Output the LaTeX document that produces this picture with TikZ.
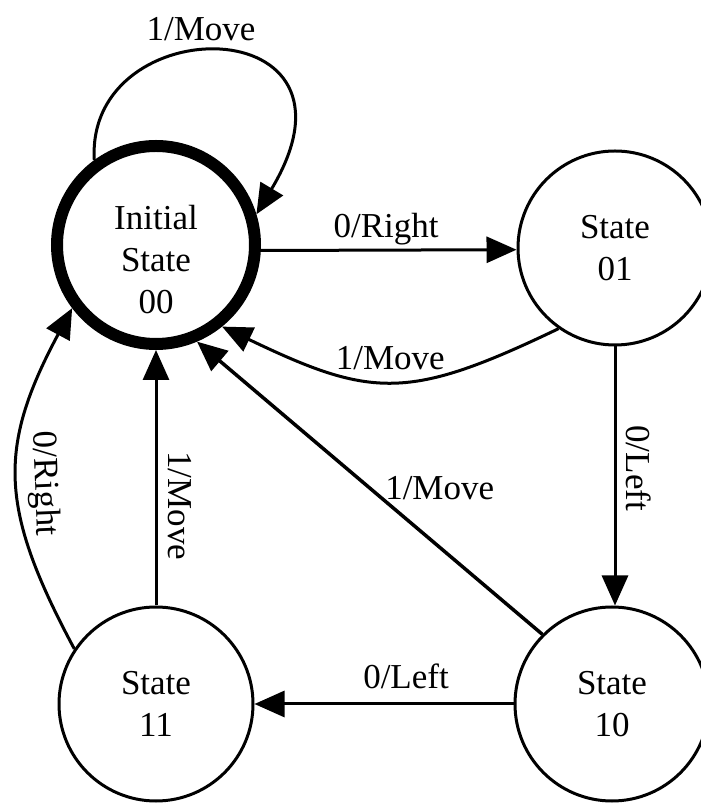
\documentclass[tikz,border=0pt]{standalone}
\usepackage{fontspec}
\setmainfont{Liberation Serif}
\usetikzlibrary{arrows.meta}
\begin{document}
\begin{tikzpicture}[x=1pt,y=1pt,
  txt/.style={font=\fontsize{35}{42}\selectfont},
  state/.style={circle, draw, line width=3pt, minimum size=194pt, inner sep=0pt, align=center, txt},
  initstate/.style={state, line width=12pt, minimum size=198pt},
  edge/.style={line width=3pt, -{Triangle[length=30pt,width=26pt]}},
  edgeback/.style={line width=3pt, {Triangle[length=30pt,width=26pt]}-},
  lbl/.style={txt, inner sep=0pt},
  vlbl/.style={lbl, sloped, allow upside down}
]
\useasboundingbox (0,0) rectangle (701,803);
\fill[white] (0,0) rectangle (701,803);
% states
\node[initstate, label={[lbl, align=center, yshift=-15pt]center:Initial\\State\\00}] (s00) at (156,558) {};
\node[state] (s01) at (615,555) {State\\01};
\node[state] (s10) at (612,99) {State\\10};
\node[state] (s11) at (156,99) {State\\11};
% self loop
\draw[edge] (s00.126) .. controls +(-9,153) and +(124,207) .. (s00.17)
  node[lbl, pos=0.45, anchor=base, yshift=11pt] {1/Move};
% 00 -> 01
\draw[edge] (s00.-3) -- node[lbl, pos=0.49, anchor=base, yshift=13pt] {0/Right} (s01.181);
% 01 -> 00
\draw[edge] (s01.235) .. controls +(-150,-72) and +(150,-72) .. (s00.-51)
  node[lbl, pos=0.5, anchor=base, yshift=12pt] {1/Move};
% 01 -> 10
\draw[edge] (s01.south) -- node[vlbl, pos=0.47, above=10pt] {0/Left} (s01.south |- s10.north);
% 10 -> 11
\draw[edge] (s10.west) -- node[lbl, pos=0.415, anchor=base, yshift=15pt] {0/Left} (s11.east);
% 10 -> 00
\draw[edge, line width=3.5pt] (s10.135) -- node[lbl, pos=0.46, anchor=base west] {1/Move} (s00.-67);
% 11 -> 00 straight
\draw[edgeback] (s00.south) -- node[vlbl, pos=0.61, above=11pt] {1/Move} (s11.north);
% 11 -> 00 curved
\draw[edgeback] (s00.217) .. controls +(-75,-140) and +(-75,140) .. (s11.146)
  node[vlbl, pos=0.52, above=9pt] {0/Right};
\end{tikzpicture}
\end{document}
